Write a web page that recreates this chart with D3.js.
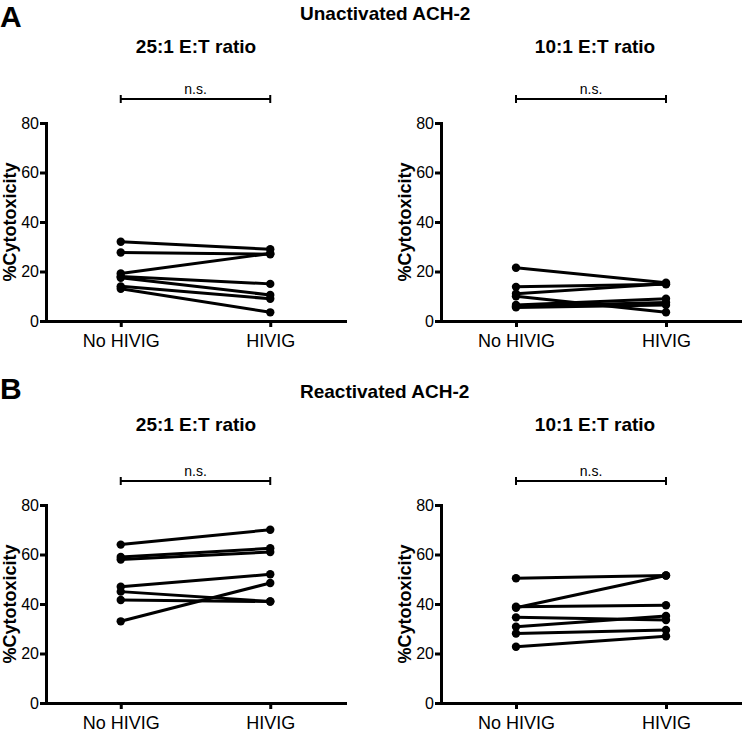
<!DOCTYPE html>
<html>
<head>
<meta charset="utf-8">
<script src="https://cdn.jsdelivr.net/npm/d3@7"></script>
<style>
  html, body { margin: 0; padding: 0; background: #fff; }
  svg { display: block; font-family: "Liberation Sans", Arial, sans-serif; }
</style>
</head>
<body>
<svg id="chart" width="742" height="732"></svg>
<script>
// ---- Data ----
const groups = ["No HIVIG", "HIVIG"];
const yTicks = [0, 20, 40, 60, 80];

const unact25_noHIVIG = [32, 27.7, 19.2, 18, 17.5, 14, 13];
const unact25_HIVIG   = [29, 27, 27.3, 15, 10.5, 9, 3.5];

const unact10_noHIVIG = [21.5, 13.8, 11, 10, 6.5, 6, 5.5];
const unact10_HIVIG   = [15.5, 14.8, 15, 3.5, 9, 7.5, 6.5];

const react25_noHIVIG = [64, 59, 58, 47, 45, 41.6, 33];
const react25_HIVIG   = [70, 62.5, 61, 52, 41, 41, 48.5];

const react10_noHIVIG = [50.4, 38.5, 38.9, 34.6, 30.8, 28.1, 22.7];
const react10_HIVIG   = [51.5, 51.5, 39.5, 33.5, 35.2, 29.5, 27];

const panelLetters = ["A", "B"];
const rowTitles = ["Unactivated ACH-2", "Reactivated ACH-2"];
const panelTitles = ["25:1 E:T ratio", "10:1 E:T ratio"];
const sigLabel = "n.s.";
const yLabel = "%Cytotoxicity";

// ---- Layout ----
const svg = d3.select("#chart");
const cols = [{x0: 46, x1: 345, titleX: 196}, {x0: 441, x1: 741, titleX: 595}];
const rows = [{top: 0}, {top: 382}];
const letterY = [27, 399];

const panels = [
  {row: 0, col: 0, no: unact25_noHIVIG, hi: unact25_HIVIG},
  {row: 0, col: 1, no: unact10_noHIVIG, hi: unact10_HIVIG},
  {row: 1, col: 0, no: react25_noHIVIG, hi: react25_HIVIG},
  {row: 1, col: 1, no: react10_noHIVIG, hi: react10_HIVIG}
];

rows.forEach((r, i) => {
  const off = i === 0 ? 0 : 378;
  svg.append("text").attr("x", 0).attr("y", letterY[i])
    .attr("font-size", 30).attr("font-weight", "bold").text(panelLetters[i]);
  svg.append("text").attr("x", 300).attr("y", 20 + off)
    .attr("font-size", 19).attr("font-weight", "bold").text(rowTitles[i]);
  cols.forEach((c, j) => {
    svg.append("text").attr("x", c.titleX).attr("y", 53 + off)
      .attr("text-anchor", "middle")
      .attr("font-size", 19).attr("font-weight", "bold").text(panelTitles[j]);
  });
});

panels.forEach(p => {
  const c = cols[p.col];
  const top = rows[p.row].top;
  const yBottom = 321 + top, yTop = 123 + top;
  const x = d3.scalePoint().domain(groups).range([c.x0, c.x1]).padding(0.5);
  const y = d3.scaleLinear().domain([0, 80]).range([yBottom, yTop]);
  const g = svg.append("g");

  // y axis
  const ya = g.append("g").attr("transform", `translate(${c.x0},0)`)
    .call(d3.axisLeft(y).tickValues(yTicks).tickSize(6).tickSizeOuter(0).tickPadding(1));
  ya.selectAll("text").attr("font-size", 16).attr("fill", "#000")
    .attr("font-family", "Liberation Sans, Arial, sans-serif");
  ya.select(".domain").attr("stroke-width", 3).attr("stroke-linecap", "square");
  ya.selectAll(".tick line").attr("stroke-width", 3);

  // x axis
  const xa = g.append("g").attr("transform", `translate(0,${yBottom})`)
    .call(d3.axisBottom(x).tickSize(6).tickSizeOuter(0).tickPadding(7));
  xa.selectAll("text").attr("font-size", 18).attr("fill", "#000")
    .attr("font-family", "Liberation Sans, Arial, sans-serif");
  xa.select(".domain").attr("stroke-width", 3).attr("stroke-linecap", "square");
  xa.selectAll(".tick line").attr("stroke-width", 3);

  // y label
  g.append("text")
    .attr("transform", `translate(${c.x0 - 30},${(yBottom + yTop) / 2}) rotate(-90)`)
    .attr("text-anchor", "middle").attr("font-size", 18).attr("font-weight", "bold")
    .text(yLabel);

  // significance bracket
  const by = yTop - 24;
  const bx0 = x(groups[0]), bx1 = x(groups[1]);
  g.append("line").attr("x1", bx0).attr("x2", bx1).attr("y1", by).attr("y2", by)
    .attr("stroke", "#000").attr("stroke-width", 2);
  [bx0, bx1].forEach(bx => g.append("line").attr("x1", bx).attr("x2", bx)
    .attr("y1", by - 4).attr("y2", by + 4).attr("stroke", "#000").attr("stroke-width", 2));
  g.append("text").attr("x", (bx0 + bx1) / 2).attr("y", by - 5)
    .attr("text-anchor", "middle").attr("font-size", 14).text(sigLabel);

  // paired lines
  const pairs = p.no.map((v, i) => [v, p.hi[i]]);
  g.selectAll("line.pair").data(pairs).enter().append("line").attr("class", "pair")
    .attr("x1", x(groups[0])).attr("x2", x(groups[1]))
    .attr("y1", d => y(d[0])).attr("y2", d => y(d[1]))
    .attr("stroke", "#000").attr("stroke-width", 3);
  pairs.forEach(d => {
    g.append("circle").attr("cx", x(groups[0])).attr("cy", y(d[0])).attr("r", 4.2).attr("fill", "#000");
    g.append("circle").attr("cx", x(groups[1])).attr("cy", y(d[1])).attr("r", 4.2).attr("fill", "#000");
  });
});
</script>
</body>
</html>
